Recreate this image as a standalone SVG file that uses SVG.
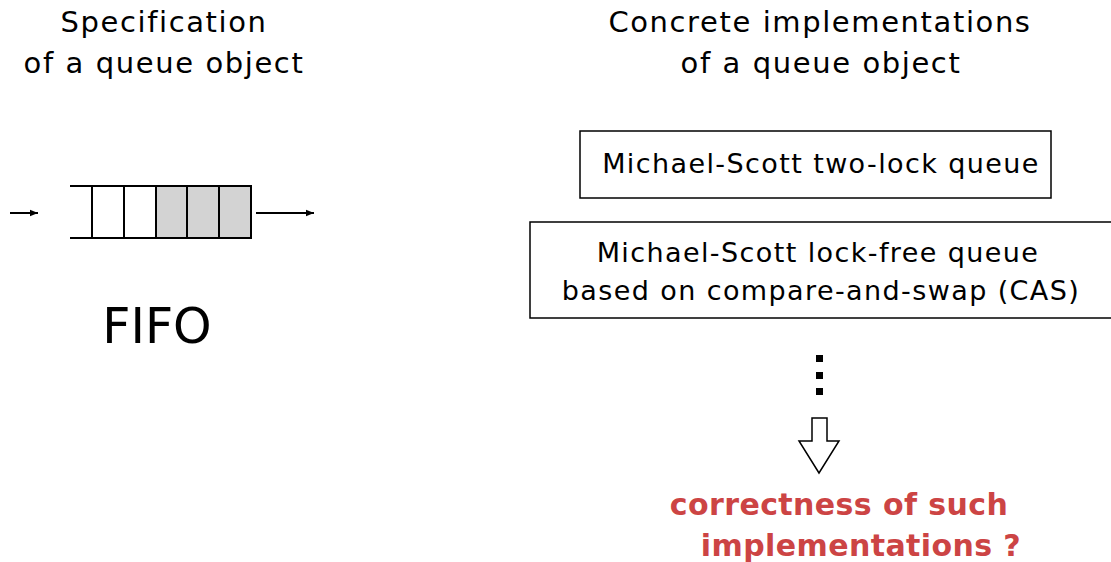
<svg xmlns="http://www.w3.org/2000/svg" width="1111" height="562" viewBox="0 0 1111 562">
<style>
text{font-family:"DejaVu Sans","Liberation Sans",sans-serif;fill:#000}
.h{font-size:29px;letter-spacing:1.6px}
.b{font-size:27px;letter-spacing:1.4px}
.r{font-size:30px;font-weight:bold;fill:#cc4444;letter-spacing:0.4px}
.ln{stroke:#000;stroke-width:2;fill:none}
.cell{stroke:#000;stroke-width:2}
</style>
<defs>
<marker id="ah" viewBox="0 0 10 10" refX="10" refY="5" markerWidth="8" markerHeight="8" markerUnits="userSpaceOnUse" orient="auto">
<path d="M0,1 L10,5 L0,9 z" fill="#000"/>
</marker>
</defs>
<g id="spec-title">
<text class="h" x="164" y="32" text-anchor="middle">Specification</text>
<text class="h" x="164" y="73" text-anchor="middle">of a queue object</text>
</g>
<g id="impl-title">
<text class="h" x="820" y="32" text-anchor="middle">Concrete implementations</text>
<text class="h" x="821" y="73" text-anchor="middle">of a queue object</text>
</g>
<g id="queue">
<line class="ln" x1="70" y1="186" x2="92" y2="186"/>
<line class="ln" x1="70" y1="238" x2="92" y2="238"/>
<rect class="cell" x="92" y="186" width="32" height="52" fill="#fff"/>
<rect class="cell" x="124" y="186" width="32" height="52" fill="#fff"/>
<rect class="cell" x="156" y="186" width="31" height="52" fill="#d3d3d3"/>
<rect class="cell" x="187" y="186" width="32" height="52" fill="#d3d3d3"/>
<rect class="cell" x="219" y="186" width="32" height="52" fill="#d3d3d3"/>
</g>
<g id="fifo">
<text x="157" y="343" text-anchor="middle" style="font-size:49px">FIFO</text>
</g>
<g id="two-lock">
<rect x="580" y="131" width="471" height="67" fill="#fff" stroke="#000" stroke-width="1.5"/>
<text class="b" x="821" y="173" text-anchor="middle">Michael-Scott two-lock queue</text>
</g>
<g id="lock-free">
<rect x="530" y="222" width="590" height="96" fill="#fff" stroke="#000" stroke-width="1.5"/>
<text class="b" x="818" y="262" text-anchor="middle">Michael-Scott lock-free queue</text>
<text class="b" x="821" y="300" text-anchor="middle">based on compare-and-swap (CAS)</text>
</g>
<g id="dots">
<rect x="816" y="355" width="7" height="7"/>
<rect x="816" y="372" width="7" height="7"/>
<rect x="816" y="388" width="7" height="7"/>
</g>
<g id="result">
<text class="r" x="839" y="515" text-anchor="middle">correctness of such</text>
<text class="r" x="861" y="556" text-anchor="middle">implementations ?</text>
</g>
<g id="connectors">
<line class="ln" x1="10" y1="213" x2="38" y2="213" stroke-width="1.5" marker-end="url(#ah)"/>
<line class="ln" x1="256" y1="213" x2="314" y2="213" stroke-width="1.5" marker-end="url(#ah)"/>
<path d="M812,418 L827,418 L827,441 L839,441 L819,473 L799,441 L812,441 Z" fill="#fff" stroke="#000" stroke-width="1.5"/>
</g>
</svg>
